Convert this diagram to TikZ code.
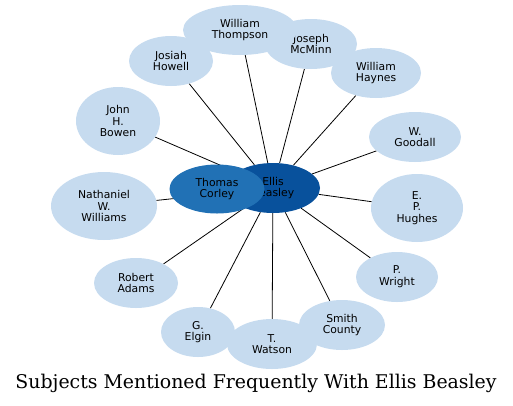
\documentclass[tikz,border=0pt]{standalone}
\usepackage{fontspec}
\setmainfont{DejaVu Sans}
\newfontfamily\titlefont{DejaVu Serif}
\usetikzlibrary{shapes.geometric}
\pgfdeclarelayer{bg}
\pgfsetlayers{bg,main}
\definecolor{leaf}{HTML}{C6DBEF}
\definecolor{mid}{HTML}{2171B5}
\definecolor{hub}{HTML}{08519C}
\begin{document}
\begin{tikzpicture}[x=1pt,y=-1pt,
    subj/.style={ellipse,fill=leaf,inner sep=0pt,align=center,
      minimum width=#1,minimum height=50pt,font=\fontsize{10.8}{11.7}\selectfont},
    tall/.style={minimum height=68pt},
    link/.style={line width=0.8pt}]
    \useasboundingbox (0,0) rectangle (513,405);
    \node[subj=94pt,fill=hub] (ellis) at (273,188) {Ellis\\Beasley};
    \node[subj=95pt,fill=mid,minimum height=49pt] (corley) at (217,189) {Thomas\\Corley};
    \node[subj=92pt] (mcminn) at (311,44) {Joseph\\McMinn};
    \node[subj=114pt] (thompson) at (240,30) {William\\Thompson};
    \node[subj=84pt] (howell) at (171,61) {Josiah\\Howell};
    \node[subj=90pt] (haynes) at (376,73) {William\\Haynes};
    \node[subj=84pt,tall] (bowen) at (118,121) {John\\H.\\Bowen};
    \node[subj=106pt,tall] (williams) at (104,206) {Nathaniel\\W.\\Williams};
    \node[subj=84pt] (adams) at (136,283) {Robert\\Adams};
    \node[subj=92pt] (goodall) at (415,137) {W.\\Goodall};
    \node[subj=92pt,tall] (hughes) at (417,208) {E.\\P.\\Hughes};
    \node[subj=82pt] (wright) at (397,277) {P.\\Wright};
    \node[subj=74pt] (elgin) at (198,332) {G.\\Elgin};
    \node[subj=90pt] (watson) at (272,344) {T.\\Watson};
    \node[subj=86pt] (smith) at (342,325) {Smith\\County};
    \begin{pgfonlayer}{bg}
    \foreach \n in {corley,mcminn,thompson,howell,haynes,bowen,williams,adams,
        goodall,hughes,wright,elgin,watson,smith}
      \draw[link] (ellis) -- (\n);
    \end{pgfonlayer}
    \node[font=\titlefont\fontsize{18.9}{22}\selectfont] (title) at (256,383) {Subjects Mentioned Frequently With Ellis Beasley};
\end{tikzpicture}
\end{document}
